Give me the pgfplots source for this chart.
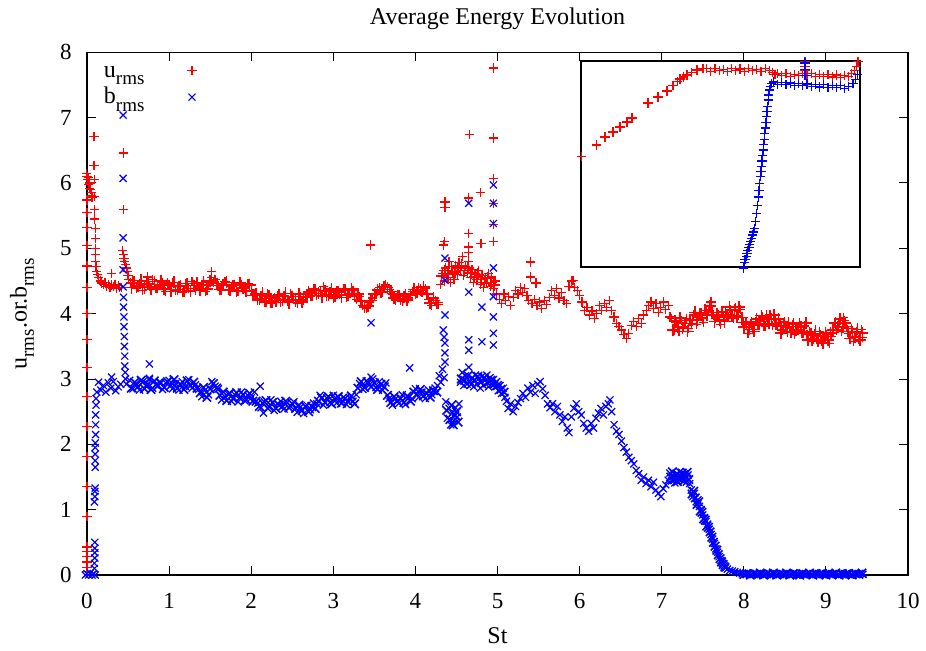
\documentclass[border=0pt]{standalone}
\usepackage{fontspec}
\setmainfont{Liberation Serif}
\usepackage{pgfplots}
\usepackage{pgfplotstable}
\pgfplotsset{compat=1.18}
\newcommand\sub[1]{\raisebox{-3.6pt}{\fontsize{9.5}{10}\selectfont #1}}
\pgfplotstableread{
x y
0.0 0.05
0.0 0.12
0.0 0.20
0.0 0.28
0.0 0.36
0.0 0.43
0.0 0.89
0.0 1.35
0.0 1.81
0.0 2.27
0.0 2.73
0.0 3.17
0.0 3.60
0.0 4.00
0.0 4.40
0.0 4.73
0.0 5.04
0.0 5.32
0.0 5.55
0.0 5.74
-0.01 6.15
0.0 6.10
0.01 6.05
0.02 6.08
0.02 5.98
0.03 6.00
0.03 5.92
0.04 5.90
0.05 5.85
0.05 5.80
0.06 5.78
0.085 6.71
0.085 6.27
0.09 6.05
0.09 5.79
0.095 5.60
0.095 5.45
0.10 5.30
0.10 5.15
0.10 5.00
0.105 4.90
0.105 4.80
0.11 4.72
0.12 4.65
0.13 4.60
0.14 4.55
0.16 4.50
0.18 4.47
0.20 4.45
0.22 4.48
0.24 4.42
0.26 4.45
0.28 4.40
0.30 4.62
0.30 4.44
0.32 4.41
0.34 4.45
0.36 4.38
0.38 4.43
0.40 4.40
0.44 6.46
0.44 5.59
0.43 4.97
0.44 4.90
0.45 4.85
0.46 4.80
0.47 4.75
0.48 4.70
0.49 4.65
0.50 4.58
0.51 4.52
0.53 4.47
0.42 4.40
0.74 4.56
0.56 4.51
0.60 4.39
0.64 4.46
0.68 4.36
0.72 4.49
0.76 4.42
0.80 4.52
0.84 4.38
0.88 4.44
0.92 4.48
0.96 4.34
1.00 4.44
1.04 4.48
1.08 4.36
1.12 4.43
1.16 4.33
1.20 4.46
1.24 4.39
1.28 4.49
1.32 4.35
1.36 4.41
1.40 4.45
1.44 4.34
1.48 4.44
1.52 4.55
1.52 4.64
1.54 4.48
1.56 4.52
1.60 4.43
1.64 4.36
1.68 4.49
1.72 4.35
1.76 4.41
1.80 4.45
1.84 4.34
1.88 4.44
1.92 4.38
1.96 4.46
2.00 4.36
2.04 4.31
2.08 4.20
2.12 4.28
2.16 4.18
2.20 4.30
2.24 4.16
2.28 4.24
2.32 4.28
2.36 4.17
2.40 4.27
2.44 4.19
2.48 4.31
2.52 4.22
2.56 4.16
2.60 4.26
2.64 4.21
2.68 4.30
2.72 4.26
2.76 4.38
2.80 4.28
2.84 4.35
2.88 4.41
2.92 4.26
2.96 4.34
3.00 4.24
3.04 4.36
3.08 4.29
3.12 4.39
3.16 4.25
3.20 4.31
3.24 4.35
3.28 4.22
3.32 4.26
3.36 4.13
3.40 4.08
3.44 4.18
3.45 5.05
3.48 4.24
3.52 4.31
3.56 4.40
3.60 4.33
3.64 4.44
3.68 4.37
3.72 4.30
3.76 4.21
3.80 4.29
3.84 4.19
3.88 4.30
3.92 4.24
3.96 4.34
4.00 4.30
4.04 4.40
4.08 4.32
4.12 4.38
4.16 4.22
4.20 4.13
4.24 4.20
4.28 4.14
4.31 4.45
4.33 4.62
4.35 4.50
4.37 4.70
4.39 4.55
4.41 4.80
4.43 4.48
4.45 4.62
4.47 4.52
4.49 4.74
4.51 4.60
4.53 4.78
4.55 4.66
4.57 4.88
4.59 4.58
4.61 4.72
4.63 4.62
4.65 4.80
4.67 4.55
4.69 4.68
4.71 4.48
4.73 4.62
4.75 4.52
4.77 4.66
4.79 4.45
4.81 4.58
4.83 4.40
4.85 4.55
4.87 4.46
4.89 4.62
4.91 4.42
4.93 4.56
4.95 4.38
4.97 4.50
4.99 4.30
4.36 5.71
4.36 5.62
4.35 5.10
4.34 5.05
4.66 6.74
4.65 5.77
4.65 5.23
4.65 5.02
4.65 4.94
4.79 5.86
4.80 5.07
4.95 7.76
4.95 6.69
4.95 6.07
4.95 5.69
4.95 5.37
4.95 5.11
5.02 4.22
5.05 4.15
5.08 4.30
5.10 4.20
5.13 4.26
5.16 4.12
5.19 4.25
5.22 4.36
5.25 4.30
5.28 4.40
5.30 4.33
5.33 4.38
5.36 4.28
5.38 4.20
5.40 4.79
5.40 4.56
5.42 4.15
5.45 4.22
5.47 4.47
5.48 4.12
5.51 4.18
5.54 4.08
5.57 4.20
5.60 4.14
5.63 4.25
5.66 4.35
5.69 4.28
5.72 4.38
5.75 4.24
5.78 4.32
5.81 4.20
5.84 4.15
5.87 4.42
5.90 4.50
5.92 4.51
5.94 4.40
5.97 4.35
6.00 4.28
6.03 4.18
6.06 4.05
6.09 4.10
6.12 3.98
6.15 4.04
6.18 3.92
6.21 4.00
6.24 4.12
6.27 4.05
6.30 4.15
6.33 4.10
6.36 4.20
6.39 4.05
6.42 3.95
6.45 3.85
6.48 3.80
6.51 3.75
6.54 3.68
6.57 3.62
6.60 3.70
6.63 3.82
6.66 3.88
6.69 3.80
6.72 3.92
6.75 3.85
6.78 3.98
6.81 4.05
6.84 4.12
6.87 4.18
6.90 4.08
6.93 4.15
6.96 4.02
6.99 4.10
7.02 4.18
7.05 4.06
7.08 4.12
7.10 3.95
7.12 3.92
7.15 3.75
7.18 3.86
7.21 3.73
7.24 3.89
7.27 3.80
7.30 3.93
7.33 3.77
7.36 3.85
7.39 3.98
7.42 3.84
7.45 3.96
7.48 4.01
7.51 3.87
7.54 4.05
7.57 4.05
7.60 4.18
7.63 3.98
7.66 3.93
7.69 3.98
7.72 3.84
7.75 3.95
7.78 4.02
7.81 3.95
7.84 4.06
7.87 3.93
7.90 4.09
7.93 3.97
7.96 4.06
7.99 3.86
8.02 3.88
8.05 3.70
8.08 3.85
8.11 3.76
8.14 3.88
8.17 3.82
8.20 3.90
8.23 3.95
8.26 3.81
8.29 3.92
8.32 3.99
8.35 3.82
8.38 3.93
8.41 3.80
8.44 3.86
8.47 3.75
8.50 3.88
8.53 3.72
8.56 3.78
8.59 3.83
8.62 3.69
8.65 3.80
8.68 3.87
8.71 3.70
8.74 3.81
8.77 3.68
8.80 3.73
8.83 3.57
8.86 3.69
8.89 3.60
8.92 3.73
8.95 3.57
8.98 3.63
9.01 3.68
9.04 3.54
9.07 3.65
9.10 3.85
9.13 3.75
9.16 3.86
9.19 3.73
9.21 3.94
9.22 3.89
9.25 3.80
9.28 3.70
9.31 3.77
9.34 3.57
9.37 3.73
9.40 3.61
9.43 3.76
9.45 3.64
}\urms
\pgfplotstableread{
x y
0.54 4.40
0.58 4.48
0.62 4.42
0.66 4.51
0.70 4.40
0.74 4.45
0.78 4.37
0.82 4.49
0.86 4.41
0.90 4.50
0.94 4.38
0.98 4.45
1.02 4.34
1.06 4.48
1.10 4.37
1.14 4.42
1.18 4.34
1.22 4.46
1.26 4.35
1.30 4.43
1.34 4.47
1.38 4.36
1.42 4.48
1.46 4.38
1.50 4.50
1.58 4.46
1.62 4.37
1.66 4.44
1.70 4.48
1.74 4.36
1.78 4.43
1.82 4.35
1.86 4.47
1.90 4.40
1.94 4.34
1.98 4.44
2.02 4.28
2.06 4.30
2.10 4.22
2.14 4.31
2.18 4.20
2.22 4.27
2.26 4.18
2.30 4.20
2.34 4.29
2.38 4.21
2.42 4.31
2.46 4.17
2.50 4.26
2.54 4.20
2.58 4.30
2.62 4.18
2.66 4.25
2.70 4.33
2.74 4.28
2.78 4.36
2.82 4.31
2.86 4.26
2.90 4.35
2.94 4.29
2.98 4.38
3.02 4.27
3.06 4.33
3.10 4.25
3.14 4.36
3.18 4.29
3.22 4.38
3.26 4.27
3.30 4.30
3.34 4.19
3.38 4.10
3.42 4.12
3.46 4.20
3.50 4.30
3.54 4.36
3.58 4.33
3.62 4.41
3.66 4.40
3.70 4.34
3.74 4.24
3.78 4.27
3.82 4.22
3.86 4.26
3.90 4.21
3.94 4.29
3.98 4.37
4.02 4.33
4.06 4.36
4.10 4.41
4.14 4.30
4.18 4.16
4.22 4.24
4.26 4.17
4.32 4.58
4.36 4.66
4.40 4.60
4.44 4.72
4.48 4.64
4.52 4.70
4.56 4.74
4.60 4.66
4.64 4.70
4.68 4.62
4.72 4.56
4.76 4.60
4.80 4.52
4.84 4.48
4.88 4.54
4.92 4.48
4.96 4.44
7.135 3.75
7.165 3.89
7.195 3.80
7.225 3.93
7.255 3.78
7.285 3.85
7.315 3.73
7.345 3.90
7.375 3.90
7.405 4.02
7.435 3.90
7.465 4.00
7.495 3.93
7.525 4.05
7.555 3.98
7.585 4.12
7.615 4.02
7.645 3.88
7.675 3.99
7.705 3.90
7.735 4.03
7.765 3.88
7.795 3.98
7.825 4.10
7.855 3.97
7.885 4.06
7.915 3.95
7.945 4.10
7.975 3.94
8.005 3.80
8.035 3.84
8.065 3.76
8.095 3.86
8.125 3.73
8.155 3.92
8.185 3.84
8.215 3.97
8.245 3.83
8.275 3.96
8.305 3.85
8.335 3.92
8.365 3.98
8.395 3.84
8.425 3.92
8.455 3.70
8.485 3.82
8.515 3.80
8.545 3.86
8.575 3.72
8.605 3.84
8.635 3.75
8.665 3.76
8.695 3.80
8.725 3.72
8.755 3.86
8.785 3.60
8.815 3.69
8.845 3.62
8.875 3.73
8.905 3.58
8.935 3.66
8.965 3.55
8.995 3.70
9.025 3.60
9.055 3.70
9.085 3.75
9.115 3.86
9.145 3.80
9.175 3.92
9.205 3.80
9.235 3.86
9.265 3.73
9.295 3.62
9.325 3.72
9.355 3.64
9.385 3.76
9.415 3.60
9.445 3.70
}\urmsfill
\pgfplotstableread{
x y
-0.02 0.00
0.00 0.02
0.02 0.00
0.04 0.03
0.06 0.00
0.08 0.02
0.10 0.00
0.09 0.10
0.09 0.18
0.095 0.26
0.095 0.34
0.095 0.41
0.095 0.50
0.09 1.12
0.095 1.20
0.095 1.28
0.10 1.33
0.10 1.65
0.10 1.75
0.10 1.85
0.10 1.95
0.10 2.02
0.105 2.15
0.105 2.30
0.105 2.45
0.11 2.60
0.11 2.70
0.12 2.80
0.14 2.95
0.17 2.83
0.20 2.90
0.23 2.80
0.26 2.94
0.29 2.86
0.30 3.03
0.32 2.96
0.35 2.82
0.38 2.88
0.41 2.92
0.44 7.04
0.44 6.07
0.44 5.16
0.44 4.67
0.44 4.41
0.445 4.25
0.445 4.10
0.45 3.95
0.45 3.80
0.455 3.65
0.455 3.50
0.46 3.35
0.46 3.20
0.465 3.10
0.47 3.00
0.48 2.92
0.76 3.23
0.76 3.01
0.52 2.98
0.56 2.85
0.60 2.93
0.64 2.83
0.68 2.96
0.72 2.89
0.76 2.99
0.80 2.86
0.84 2.91
0.88 2.95
0.92 2.84
0.96 2.94
1.00 2.98
1.04 2.85
1.08 2.93
1.12 2.83
1.16 2.96
1.20 2.89
1.24 2.99
1.28 2.86
1.32 2.91
1.36 2.84
1.40 2.73
1.44 2.83
1.48 2.76
1.52 2.96
1.56 2.89
1.60 2.85
1.64 2.68
1.68 2.73
1.72 2.77
1.76 2.66
1.80 2.76
1.84 2.65
1.88 2.80
1.92 2.67
1.96 2.75
2.00 2.71
2.04 2.80
2.08 2.63
2.11 2.89
2.12 2.56
2.15 2.48
2.16 2.65
2.20 2.55
2.24 2.68
2.28 2.52
2.32 2.62
2.36 2.66
2.40 2.54
2.44 2.64
2.48 2.58
2.52 2.65
2.56 2.49
2.60 2.57
2.64 2.47
2.68 2.60
2.72 2.53
2.76 2.63
2.80 2.62
2.84 2.75
2.88 2.60
2.92 2.71
2.96 2.64
3.00 2.75
3.04 2.63
3.08 2.68
3.12 2.72
3.16 2.61
3.20 2.71
3.24 2.66
3.28 2.76
3.32 2.93
3.36 2.84
3.40 2.97
3.44 2.91
3.46 3.86
3.46 3.03
3.48 3.00
3.52 2.87
3.56 2.96
3.60 2.83
3.64 2.94
3.68 2.70
3.72 2.60
3.76 2.70
3.80 2.63
3.84 2.76
3.88 2.61
3.92 2.72
3.93 3.17
3.96 2.70
4.00 2.85
4.04 2.72
4.08 2.80
4.12 2.70
4.16 2.83
4.20 2.76
4.24 2.86
4.27 2.90
4.29 3.05
4.31 2.95
4.33 3.15
4.35 3.02
4.37 2.65
4.39 2.40
4.41 2.55
4.43 2.30
4.45 2.48
4.47 2.36
4.49 2.56
4.51 2.42
4.53 2.62
4.55 2.95
4.57 3.10
4.59 2.90
4.61 3.05
4.63 2.92
4.65 3.18
4.67 2.96
4.69 3.02
4.71 2.88
4.73 3.06
4.75 2.92
4.77 3.00
4.79 2.86
4.81 3.04
4.83 2.90
4.85 2.98
4.87 3.06
4.89 2.88
4.91 3.02
4.93 2.92
4.95 2.99
4.97 2.88
4.99 2.96
5.01 2.82
5.03 2.90
5.05 2.78
5.07 2.86
5.09 2.72
5.11 2.66
4.95 5.97
4.65 5.69
4.95 5.69
4.95 5.38
4.36 4.85
4.36 4.51
4.95 4.70
4.65 4.33
4.95 4.26
4.81 4.10
4.95 3.95
4.36 3.98
4.34 3.75
4.35 3.64
4.36 3.55
4.95 3.70
4.95 3.52
4.65 3.60
4.65 3.44
4.81 3.57
4.36 3.40
4.36 3.26
5.13 2.55
5.16 2.62
5.19 2.50
5.22 2.58
5.25 2.64
5.28 2.70
5.31 2.78
5.34 2.72
5.37 2.86
5.40 2.80
5.43 2.90
5.46 2.78
5.49 2.92
5.52 2.96
5.55 2.85
5.58 2.75
5.61 2.62
5.64 2.56
5.67 2.62
5.70 2.50
5.73 2.58
5.76 2.45
5.79 2.35
5.82 2.42
5.85 2.25
5.87 2.18
5.90 2.42
5.93 2.55
5.96 2.62
5.99 2.50
6.02 2.45
6.05 2.32
6.08 2.25
6.11 2.20
6.14 2.32
6.17 2.25
6.20 2.40
6.23 2.48
6.26 2.55
6.29 2.45
6.32 2.58
6.35 2.62
6.37 2.68
6.39 2.50
6.42 2.30
6.45 2.20
6.48 2.15
6.51 2.05
6.54 1.95
6.57 1.88
6.60 1.80
6.63 1.75
6.66 1.70
6.69 1.60
6.72 1.55
6.75 1.45
6.78 1.50
6.81 1.40
6.84 1.45
6.87 1.35
6.90 1.42
6.93 1.30
6.96 1.25
6.99 1.20
7.02 1.32
7.05 1.38
7.08 1.45
7.10 1.56
7.12 1.44
7.14 1.52
7.16 1.41
7.18 1.55
7.20 1.47
7.22 1.58
7.24 1.45
7.26 1.50
7.28 1.55
7.30 1.42
7.32 1.53
7.34 1.40
7.36 1.30
7.38 1.20
7.40 1.25
7.42 1.12
7.44 1.15
7.46 1.05
7.48 1.00
7.50 0.92
7.52 0.88
7.54 0.82
7.56 0.78
7.58 0.70
7.60 0.62
7.62 0.55
7.64 0.48
7.66 0.40
7.68 0.35
7.70 0.28
7.72 0.22
7.74 0.18
7.76 0.14
7.78 0.11
7.80 0.09
7.83 0.07
7.86 0.06
7.89 0.05
7.92 0.04
7.95 0.03
7.98 0.02
8.02 0.01
8.06 0.03
8.10 0.01
8.14 0.02
8.18 0.00
8.22 0.02
8.26 0.01
8.30 0.03
8.34 0.00
8.38 0.02
8.42 0.01
8.46 0.02
8.50 0.00
8.54 0.02
8.58 0.01
8.62 0.03
8.66 0.00
8.70 0.02
8.74 0.01
8.78 0.02
8.82 0.00
8.86 0.02
8.90 0.01
8.94 0.03
8.98 0.00
9.02 0.02
9.06 0.01
9.10 0.02
9.14 0.00
9.18 0.02
9.22 0.01
9.26 0.03
9.30 0.00
9.34 0.02
9.38 0.01
9.42 0.02
9.45 0.01
}\brms
\pgfplotstableread{
x y
0.54 2.86
0.58 2.95
0.62 2.88
0.66 2.98
0.70 2.85
0.74 2.92
0.78 2.84
0.82 2.97
0.86 2.89
0.90 2.94
0.94 2.87
0.98 2.96
1.02 2.90
1.06 2.99
1.10 2.86
1.14 2.92
1.18 2.84
1.22 2.97
1.26 2.90
1.30 2.95
1.34 2.86
1.38 2.79
1.42 2.87
1.46 2.72
1.50 2.85
1.54 2.93
1.58 2.86
1.62 2.75
1.66 2.80
1.70 2.67
1.74 2.78
1.78 2.70
1.82 2.79
1.86 2.71
1.90 2.76
1.94 2.68
1.98 2.78
2.02 2.66
2.06 2.66
2.10 2.58
2.14 2.63
2.18 2.67
2.22 2.57
2.26 2.64
2.30 2.55
2.34 2.60
2.38 2.58
2.42 2.66
2.46 2.56
2.50 2.62
2.54 2.55
2.58 2.60
2.62 2.52
2.66 2.58
2.70 2.50
2.74 2.58
2.78 2.55
2.82 2.66
2.86 2.71
2.90 2.64
2.94 2.73
2.98 2.62
3.02 2.69
3.06 2.73
3.10 2.63
3.14 2.70
3.18 2.66
3.22 2.74
3.26 2.62
3.30 2.86
3.34 2.96
3.38 2.87
3.42 2.95
3.46 2.88
3.50 2.94
3.54 2.84
3.58 2.92
3.62 2.88
3.66 2.75
3.70 2.64
3.74 2.73
3.78 2.66
3.82 2.70
3.86 2.64
3.90 2.74
3.94 2.66
3.98 2.80
4.02 2.76
4.06 2.84
4.10 2.74
4.14 2.78
4.18 2.72
4.22 2.82
4.26 2.80
4.38 2.52
4.42 2.38
4.44 2.60
4.46 2.30
4.48 2.44
4.50 2.50
4.52 2.34
4.56 3.00
4.60 2.98
4.64 3.05
4.68 2.92
4.72 2.98
4.76 3.04
4.80 2.95
4.84 3.02
4.88 2.94
4.92 2.98
4.96 2.92
5.00 2.90
5.04 2.84
5.08 2.80
7.11 1.50
7.13 1.58
7.15 1.46
7.17 1.53
7.19 1.43
7.21 1.52
7.23 1.50
7.25 1.56
7.27 1.44
7.29 1.50
7.31 1.57
7.33 1.46
7.37 1.24
7.39 1.28
7.41 1.18
7.43 1.08
7.45 1.12
7.47 0.98
7.49 0.96
7.51 0.86
7.53 0.84
7.55 0.75
7.57 0.73
7.59 0.66
7.61 0.58
7.63 0.50
7.65 0.44
7.67 0.38
7.69 0.31
7.71 0.25
7.73 0.20
7.75 0.16
7.77 0.12
8.00 0.01
8.04 0.02
8.08 0.00
8.12 0.02
8.16 0.01
8.20 0.03
8.24 0.00
8.28 0.02
8.32 0.01
8.36 0.03
8.40 0.00
8.44 0.02
8.48 0.01
8.52 0.03
8.56 0.00
8.60 0.02
8.64 0.01
8.68 0.00
8.72 0.02
8.76 0.01
8.80 0.03
8.84 0.00
8.88 0.02
8.92 0.01
8.96 0.02
9.00 0.00
9.04 0.02
9.08 0.01
9.12 0.03
9.16 0.00
9.20 0.02
9.24 0.01
9.28 0.02
9.32 0.00
9.36 0.02
9.40 0.01
9.44 0.03
}\brmsfill
\pgfplotstableread{
x y
0.0025 0.535
0.056 0.592
0.086 0.631
0.115 0.655
0.140 0.680
0.165 0.704
0.183 0.723
0.240 0.796
0.276 0.825
0.308 0.854
0.330 0.883
0.345 0.900
0.355 0.913
0.367 0.922
0.380 0.932
0.395 0.945
0.416 0.956
0.437 0.962
0.450 0.962
0.465 0.950
0.480 0.965
0.495 0.952
0.510 0.960
0.525 0.948
0.540 0.964
0.555 0.953
0.570 0.961
0.585 0.950
0.600 0.963
0.615 0.954
0.630 0.960
0.645 0.949
0.660 0.962
0.675 0.955
0.685 0.945
0.695 0.935
0.705 0.938
0.720 0.928
0.735 0.940
0.750 0.926
0.765 0.936
0.780 0.930
0.795 0.940
0.803 0.995
0.803 0.975
0.803 0.955
0.810 0.928
0.825 0.938
0.840 0.926
0.855 0.935
0.870 0.924
0.885 0.934
0.900 0.922
0.915 0.932
0.930 0.920
0.945 0.930
0.960 0.925
0.970 0.940
0.980 0.955
0.988 0.975
0.993 0.997
}\urmsin
\pgfplotstableread{
x y
0.581 -0.005
0.585 0.020
0.588 0.035
0.592 0.050
0.595 0.065
0.598 0.080
0.602 0.095
0.605 0.110
0.608 0.125
0.611 0.140
0.615 0.155
0.618 0.170
0.622 0.185
0.626 0.220
0.630 0.260
0.633 0.300
0.635 0.340
0.638 0.370
0.641 0.406
0.643 0.440
0.645 0.465
0.647 0.487
0.649 0.515
0.651 0.540
0.653 0.568
0.655 0.595
0.657 0.620
0.659 0.649
0.661 0.675
0.663 0.700
0.665 0.730
0.667 0.755
0.669 0.780
0.671 0.811
0.673 0.835
0.675 0.859
0.679 0.878
0.683 0.892
0.690 0.898
0.705 0.886
0.720 0.896
0.735 0.884
0.750 0.893
0.765 0.882
0.780 0.892
0.795 0.880
0.803 0.990
0.803 0.960
0.803 0.930
0.810 0.888
0.825 0.876
0.840 0.886
0.855 0.874
0.870 0.884
0.885 0.872
0.900 0.882
0.915 0.870
0.930 0.880
0.945 0.868
0.960 0.878
0.975 0.890
0.985 0.910
0.992 0.935
}\brmsin
\begin{document}
\begin{tikzpicture}
\useasboundingbox (-43.5pt,-37.5pt) rectangle (419.5pt,287.5pt);
\begin{axis}[
  scale only axis, width=410.5pt, height=261.35pt,
  xmin=0, xmax=10, ymin=0, ymax=8,
  xtick={0,1,...,10}, ytick={0,1,...,8},
  clip=false,
  axis line style={line width=0.6pt},
  tick style={line width=0.5pt, black},
  major tick length=4.5pt,
  /pgf/number format/assume math mode=true,
  ticklabel style={font=\fontsize{11.5}{13}\selectfont},
  xticklabel style={anchor=base, yshift=-16.5pt, inner sep=0pt},
  yticklabel style={anchor=east, xshift=-7.5pt, inner sep=0pt},
  title={Average Energy Evolution},
  title style={at={(axis description cs:0.5,1.0306)}, anchor=base, font=\fontsize{12}{14}\selectfont},
  xlabel={St},
  xlabel style={at={(axis description cs:0.5,-0.1301)}, anchor=base, font=\fontsize{12}{14}\selectfont},
  ylabel={u\sub{rms}.or.b\sub{rms}},
  ylabel style={at={(axis description cs:-0.0792,0.5)}, anchor=center, font=\fontsize{12}{14}\selectfont},
  legend style={at={(axis description cs:0.0207,0.9828)}, anchor=north west, draw=none, fill=none,
    inner sep=0pt, outer sep=0pt, nodes={inner sep=0pt}, font=\fontsize{12}{14}\selectfont,
    row sep=3.5pt, column sep=0pt},
  legend plot pos=right,
  legend cell align=left,
]
\addplot[only marks, mark=+, mark size=2.3pt, color=red, mark options={line width=0.6pt}] table {\urms};
\addlegendentry{\makebox[41.7pt][l]{u\sub{rms}}\rule[-4.35pt]{0pt}{12.35pt}}
\addplot[forget plot, only marks, mark=+, mark size=3pt, color=red, mark options={line width=0.8pt}] table {\urmsfill};
\addplot[only marks, mark=x, mark size=2.5pt, color=blue, mark options={line width=0.6pt}] table {\brms};
\addlegendentry{\makebox[41.7pt][l]{b\sub{rms}}\rule[-4.35pt]{0pt}{12.35pt}}
\addplot[forget plot, only marks, mark=x, mark size=3pt, color=blue, mark options={line width=0.8pt}] table {\brmsfill};
\end{axis}
\begin{axis}[
  at={(247pt,154pt)}, anchor=south west,
  scale only axis, width=139.5pt, height=103pt,
  xmin=0, xmax=1, ymin=0, ymax=1,
  xtick=\empty, ytick=\empty,
  clip=false,
  axis line style={line width=0.6pt},
]
\addplot[only marks, mark=+, mark size=2.3pt, color=red, mark options={line width=0.6pt}] table {\urmsin};
\addplot[only marks, mark=+, mark size=2.3pt, color=blue, mark options={line width=0.6pt}] table {\brmsin};
\end{axis}
\end{tikzpicture}
\end{document}
